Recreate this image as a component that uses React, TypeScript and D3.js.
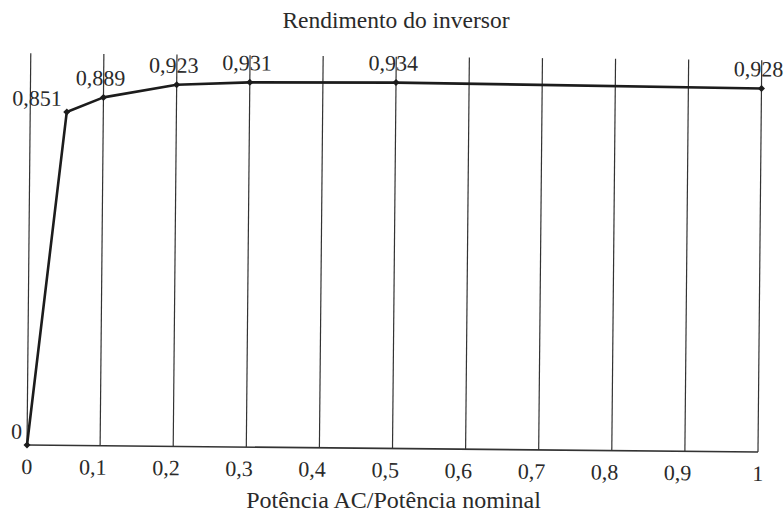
import React from "react";
import * as d3 from "d3";

const xValues = [0, 0.05, 0.1, 0.2, 0.3, 0.5, 1];
const efficiency = [0, 0.851, 0.889, 0.923, 0.931, 0.934, 0.928];
const pointLabels = ["0", "0,851", "0,889", "0,923", "0,931", "0,934", "0,928"];
const tickValues = [0, 0.1, 0.2, 0.3, 0.4, 0.5, 0.6, 0.7, 0.8, 0.9, 1];
const tickLabels = ["0", "0,1", "0,2", "0,3", "0,4", "0,5", "0,6", "0,7", "0,8", "0,9", "1"];
const chartTitle = "Rendimento do inversor";
const xTitle = "Potência AC/Potência nominal";

const W = 784;
const H = 519;
const FONT = "Liberation Serif";

export default function App() {
  const x = d3.scaleLinear().domain([0, 1]).range([27, 758]);
  const y = d3.scaleLinear().domain([0, 1]).range([448.5, 56.7]);
  const line = d3
    .line<number>()
    .x((_, i) => x(xValues[i]))
    .y((d) => y(d));
  const pathD = line(efficiency) || "";
  const cx = (x(0) + x(1)) / 2;
  const cy = y(0);
  const ink = "#2a2a2a";

  return (
    <svg
      width={W}
      height={H}
      viewBox={`0 0 ${W} ${H}`}
      style={{ position: "absolute", left: 0, top: 0, background: "#fff" }}
    >
      <rect x={0} y={0} width={W} height={H} fill="#fff" />
      <text x={396} y={28} textAnchor="middle" style={{ fontFamily: FONT }} fontSize={23.5} fill={ink}>
        {chartTitle}
      </text>
      <text x={393.5} y={508} textAnchor="middle" style={{ fontFamily: FONT }} fontSize={24} fill={ink}>
        {xTitle}
      </text>
      <g transform={`rotate(0.55 ${cx} ${cy})`}>
        {tickValues.map((t, i) => (
          <line
            key={"g" + i}
            x1={x(t)}
            x2={x(t)}
            y1={y(0)}
            y2={y(1)}
            stroke="#333"
            strokeWidth={1.2}
          />
        ))}
        <line x1={x(0)} x2={x(1)} y1={y(0)} y2={y(0)} stroke="#333" strokeWidth={1.6} />
        {tickValues.map((t, i) => (
          <text
            key={"t" + i}
            x={x(t) + (tickLabels[i].includes(",") ? -7 : 0)}
            y={y(0) + 29}
            textAnchor="middle"
            style={{ fontFamily: FONT }}
            fontSize={22}
            fill={ink}
          >
            {tickLabels[i]}
          </text>
        ))}
        <path d={pathD} fill="none" stroke="#1c1c1c" strokeWidth={2.6} strokeLinejoin="round" />
        {efficiency.map((v, i) => {
          const px = x(xValues[i]);
          const py = y(v);
          return (
            <path
              key={"m" + i}
              d={`M${px},${py - 3.5}L${px + 3.5},${py}L${px},${py + 3.5}L${px - 3.5},${py}Z`}
              fill="#1c1c1c"
            />
          );
        })}
        {efficiency.map((v, i) => {
          const px = x(xValues[i]);
          const py = y(v);
          const left = i < 2;
          return (
            <text
              key={"l" + i}
              x={left ? px - 5 : px - 3}
              y={left ? py - 6 : py - 12}
              textAnchor={left ? "end" : "middle"}
              style={{ fontFamily: FONT }}
              fontSize={22}
              fill={ink}
            >
              {pointLabels[i]}
            </text>
          );
        })}
      </g>
    </svg>
  );
}
